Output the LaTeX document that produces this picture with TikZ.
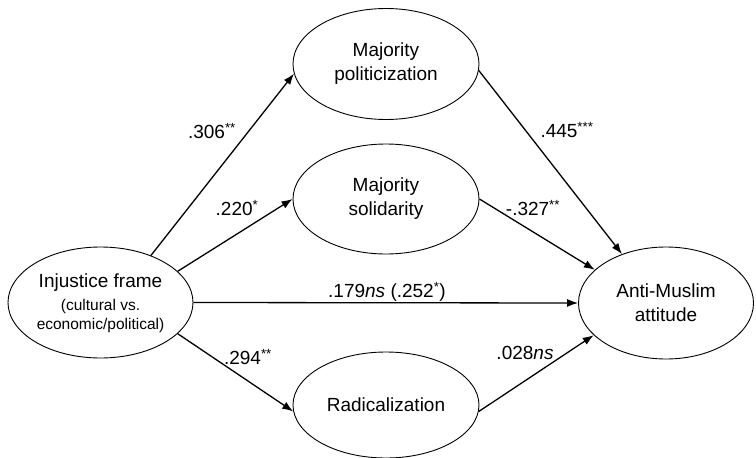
\documentclass[tikz,border=0pt]{standalone}
\usepackage{fontspec}
\setmainfont{Liberation Sans}
\usetikzlibrary{shapes.geometric,arrows.meta}
\begin{document}
\begin{tikzpicture}[x=1pt,y=-1pt,
  var/.style={draw=black, line width=0.9pt, ellipse, inner sep=0pt, align=center,
    font=\fontsize{19}{24}\selectfont},
  path/.style={line width=1.3pt, -{Latex[length=11pt,width=8pt]}},
  coef/.style={font=\fontsize{19}{22}\selectfont, inner sep=0pt}]
\useasboundingbox (0,0) rectangle (756,458);
\node[var, minimum width=185pt, minimum height=111pt] (inj) at (100.5,302.5) {};
\node[var, minimum width=186pt, minimum height=111pt] (pol) at (386,64) {Majority\\politicization};
\node[var, minimum width=186pt, minimum height=110pt] (sol) at (386,199) {Majority\\solidarity};
\node[var, minimum width=186pt, minimum height=106pt] (rad) at (386,405) {Radicalization};
\node[var, minimum width=175pt, minimum height=112pt] (anti) at (666,303) {Anti-Muslim\\attitude};
\node[font=\fontsize{19}{24}\selectfont, inner sep=0pt] (injA) at (100.5,283) {Injustice frame};
\node[font=\fontsize{15.5}{19}\selectfont, inner sep=0pt, align=center] (injB) at (100.5,315.5) {(cultural vs.\\economic/political)};

\draw[path] (inj.43) -- (pol.186);
\draw[path] (inj.22) -- (sol.180);
\draw[path] (inj.east) -- (anti.west);
\draw[path] (inj.-22) -- (rad.184);
\draw[path] (pol.-4) -- (anti.132);
\draw[path] (sol.0) -- (anti.155);
\draw[path] (rad.-4) -- (anti.204);

\node[coef] (c1) at (212,131) {.306\textsuperscript{**}};
\node[coef] (c2) at (237,208) {.220\textsuperscript{*}};
\node[coef] (c3) at (387,292) {.179\textit{ns} (.252\textsuperscript{*})};
\node[coef] (c4) at (248,357) {.294\textsuperscript{**}};
\node[coef] (c5) at (567,130) {.445\textsuperscript{***}};
\node[coef] (c6) at (533,208) {-.327\textsuperscript{**}};
\node[coef] (c7) at (525,353) {.028\textit{ns}};
\end{tikzpicture}
\end{document}
